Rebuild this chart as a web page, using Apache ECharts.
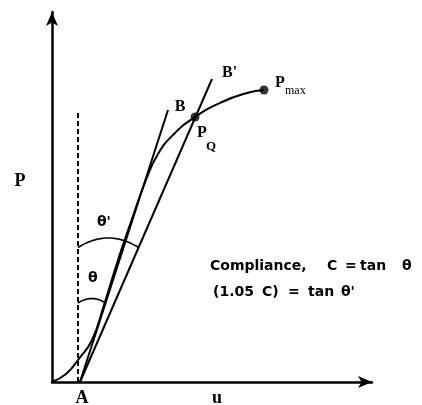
<!DOCTYPE html>
<html>
<head>
<meta charset="utf-8">
<script src="https://cdn.jsdelivr.net/npm/echarts/dist/echarts.min.js"></script>
<style>
  html, body { margin: 0; padding: 0; background: #fff; }
  #chart { width: 422px; height: 405px; }
</style>
</head>
<body>
<div id="chart"></div>
<script>
// Load–displacement record (u, P) in plot units
const curveU = [0, 14, 26, 40, 52, 66, 80, 94, 106, 122, 143, 170, 195, 212];
const curveP = [0, 8, 22, 42, 77, 122, 163, 202, 228, 248, 265, 280, 289, 292];

// Construction points
const pointA = [28, 0];          // foot of the tangent lines
const pointB = [116, 272];       // end of initial-slope line AB
const pointBPrime = [160, 303];  // end of 5% secant line AB'
const pointPQ = [143, 265];
const pointPmax = [212, 292];

// Vertical dashed reference through the toe
const refU = 26;
const refTop = 272;

// Angle arcs: height where each arc meets the reference, and its bulge
const arcTheta = { h: 79, bulge: 4.5 };
const arcThetaPrime = { h: 134.5, bulge: 9.5 };

// Axis extents (one unit per pixel on both axes)
const uMax = 320;
const pMax = 370;

function pointOnLine(end, h) {
  return pointA[0] + (end[0] - pointA[0]) * h / end[1];
}

function arcPoints(arc, end) {
  const L = [refU, arc.h];
  const R = [pointOnLine(end, arc.h), arc.h];
  const C = [(L[0] + R[0]) / 2, arc.h + 2 * arc.bulge];
  const pts = [];
  for (let i = 0; i <= 24; i++) {
    const t = i / 24;
    const a = (1 - t) * (1 - t), b = 2 * t * (1 - t), c = t * t;
    pts.push([a * L[0] + b * C[0] + c * R[0], a * L[1] + b * C[1] + c * R[1]]);
  }
  return pts;
}

const curve = curveU.map((u, i) => [u, curveP[i]]);

const black = '#000';
const lineBase = {
  type: 'line', showSymbol: false, silent: true, animation: false,
  lineStyle: { color: black, width: 2 }
};

const serif = '"Liberation Serif", "DejaVu Serif", serif';
const sans = '"DejaVu Sans", sans-serif';

function txt(text, x, y, font, align) {
  return {
    type: 'text', silent: true,
    style: { text, x, y, font, fill: black, textAlign: align || 'left', textVerticalAlign: 'middle' }
  };
}

const chart = echarts.init(document.getElementById('chart'), null, { renderer: 'canvas' });

chart.setOption({
  animation: false,
  backgroundColor: '#fff',
  grid: { left: 52, top: 12, width: uMax, height: pMax },
  xAxis: {
    type: 'value', min: 0, max: uMax,
    axisLine: { show: true, symbol: ['none', 'arrow'], symbolSize: [9, 14], lineStyle: { color: black, width: 2.5 } },
    axisTick: { show: false }, axisLabel: { show: false }, splitLine: { show: false }
  },
  yAxis: {
    type: 'value', min: 0, max: pMax,
    axisLine: { show: true, onZero: false, symbol: ['none', 'arrow'], symbolSize: [9, 14], lineStyle: { color: black, width: 2.5 } },
    axisTick: { show: false }, axisLabel: { show: false }, splitLine: { show: false }
  },
  series: [
    Object.assign({}, lineBase, { name: 'record', smooth: 0.5, data: curve }),
    Object.assign({}, lineBase, { name: 'AB', data: [pointA, pointB] }),
    Object.assign({}, lineBase, { name: "AB'", data: [pointA, pointBPrime] }),
    Object.assign({}, lineBase, {
      name: 'reference', data: [[refU, 0], [refU, refTop]],
      lineStyle: { color: black, width: 2, type: [5, 3] }
    }),
    Object.assign({}, lineBase, { name: 'theta', data: arcPoints(arcTheta, pointB), lineStyle: { color: black, width: 1.6 } }),
    Object.assign({}, lineBase, { name: "theta'", data: arcPoints(arcThetaPrime, pointBPrime), lineStyle: { color: black, width: 1.6 } }),
    {
      type: 'scatter', name: 'points', silent: true, animation: false,
      symbol: 'circle', symbolSize: 9, itemStyle: { color: black },
      data: [pointPQ, pointPmax]
    }
  ],
  graphic: [
    txt('P', 20, 181, 'bold 18px ' + serif, 'center'),
    txt('A', 82, 398, 'bold 18px ' + serif, 'center'),
    txt('u', 217, 398, 'bold 18px ' + serif, 'center'),
    txt('B', 180, 107, 'bold 16px ' + serif, 'center'),
    txt("B'", 222, 73, 'bold 16px ' + serif),
    txt('P', 197, 133, 'bold 16px ' + serif),
    txt('Q', 206, 147, 'bold 13px ' + serif),
    txt('P', 275, 83, 'bold 16px ' + serif),
    txt('max', 285, 91, '12px ' + serif),
    txt("θ'", 97, 222, 'bold 14px ' + sans),
    txt('θ', 88, 278, 'bold 14px ' + sans),
    txt('Compliance,', 210, 266, 'bold 14px ' + sans),
    txt('C', 327, 266, 'bold 14px ' + sans),
    txt('=', 345, 266, 'bold 14px ' + sans),
    txt('tan', 360, 266, 'bold 14px ' + sans),
    txt('θ', 402, 266, 'bold 14px ' + sans),
    txt('(1.05', 213, 292, 'bold 14px ' + sans),
    txt('C)', 262, 292, 'bold 14px ' + sans),
    txt('=', 288, 292, 'bold 14px ' + sans),
    txt('tan', 308, 292, 'bold 14px ' + sans),
    txt("θ'", 341, 292, 'bold 14px ' + sans)
  ]
});
</script>
</body>
</html>
